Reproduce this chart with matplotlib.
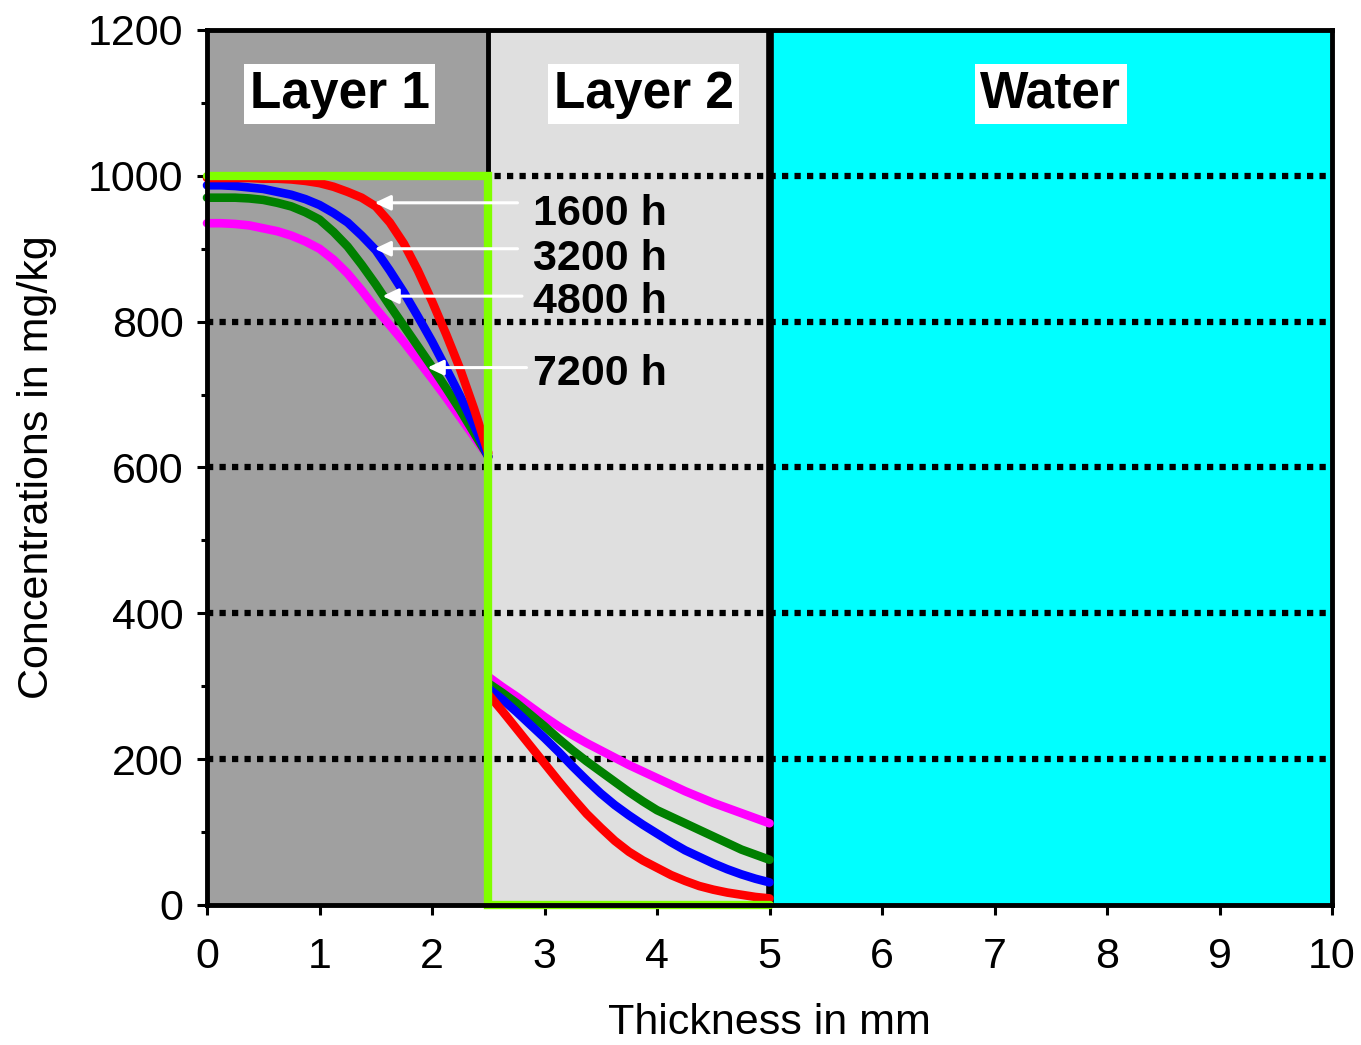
import numpy as np
import matplotlib
matplotlib.use("Agg")
import matplotlib.pyplot as plt
from matplotlib.ticker import MultipleLocator

plt.rcParams['font.family'] = ['Liberation Sans', 'DejaVu Sans']

# layer 1 profiles (0 .. 2.5 mm, read every 0.125 mm)
x_layer1 = [0, 0.125, 0.25, 0.375, 0.5, 0.625, 0.75, 0.875, 1.0, 1.125, 1.25,
            1.375, 1.5, 1.625, 1.75, 1.875, 2.0, 2.125, 2.25, 2.375, 2.5]
red_l1 = [997, 997, 997, 997, 996, 996, 995, 993, 990, 985, 978,
          970, 958, 936, 907, 870, 828, 783, 735, 680, 620]
blue_l1 = [987, 987, 986, 984, 982, 978, 974, 968, 960, 949, 936,
           918, 898, 870, 840, 807, 773, 736, 698, 657, 615]
green_l1 = [970, 970, 970, 969, 967, 963, 958, 950, 940, 923, 903,
            878, 851, 822, 794, 766, 738, 709, 679, 647, 615]
magenta_l1 = [935, 935, 934, 932, 928, 924, 918, 910, 900, 885, 866,
              843, 818, 795, 772, 747, 722, 696, 669, 642, 615]

# layer 2 profiles (2.5 .. 5 mm)
x_layer2 = [2.5, 2.625, 2.75, 2.875, 3.0, 3.125, 3.25, 3.375, 3.5, 3.625, 3.75,
            3.875, 4.0, 4.125, 4.25, 4.375, 4.5, 4.625, 4.75, 4.875, 5.0]
red_l2 = [289, 266, 242, 218, 194, 170, 147, 125, 106, 88, 73,
          61, 51, 41, 33, 26, 21, 17, 14, 11, 9]
blue_l2 = [297, 282, 265, 247, 229, 210, 190, 171, 153, 137, 123,
           110, 98, 86, 75, 66, 57, 49, 42, 36, 31]
green_l2 = [304, 291, 277, 261, 245, 228, 212, 197, 183, 169, 155,
            142, 130, 121, 112, 103, 94, 85, 76, 69, 62]
magenta_l2 = [313, 299, 286, 272, 258, 245, 233, 222, 212, 202, 192,
              183, 174, 165, 156, 148, 140, 133, 126, 119, 112]

# initial concentration
x_init = [0, 2.5, 2.5, 5.0]
y_init = [1000, 1000, 0, 0]

times = ['1600 h', '3200 h', '4800 h', '7200 h']
label_y = [933, 871, 812, 713]
arrow_y = [963, 900, 835, 737]
arrow_tail = [2.76, 2.76, 2.80, 2.84]
arrow_head = [1.49, 1.49, 1.56, 1.96]

regions = ['Layer 1', 'Layer 2', 'Water']
region_x = [1.18, 3.88, 7.5]

fig = plt.figure(figsize=(13.61, 10.45), dpi=100)
ax = fig.add_axes([0.1521, 0.134, 0.8266, 0.8373])

ax.axvspan(0, 2.5, color='#a0a0a0', zorder=0, lw=0)
ax.axvspan(2.5, 5, color='#dfdfdf', zorder=0, lw=0)
ax.axvspan(5, 10, color='#00ffff', zorder=0, lw=0)

for gy in [200, 400, 600, 800, 1000]:
    ax.axhline(gy, color='black', lw=4.5, linestyle=(0, (1, 1)), zorder=1)

ax.axvline(2.5, color='black', lw=3.5, zorder=2)
ax.axvline(5, color='black', lw=5.5, zorder=2)

profiles = [
    ('#ff0000', red_l1, red_l2),
    ('#0000ff', blue_l1, blue_l2),
    ('#008000', green_l1, green_l2),
    ('#ff00ff', magenta_l1, magenta_l2),
]
for col, y1, y2 in profiles[::-1]:
    ax.plot(x_layer1, y1, color=col, lw=6.2, solid_capstyle='round', zorder=3, clip_on=False)
    ax.plot(x_layer2, y2, color=col, lw=6.2, solid_capstyle='round', zorder=3, clip_on=False)

ax.plot(x_init, y_init, color='#80ff00', lw=6, solid_capstyle='round',
        solid_joinstyle='miter', zorder=4, clip_on=False)

for t, ly, ay, xt, xh in zip(times, label_y, arrow_y, arrow_tail, arrow_head):
    ax.annotate('', xy=(xh, ay), xytext=(xt, ay),
                arrowprops=dict(arrowstyle='-|>,head_length=0.95,head_width=0.45',
                                mutation_scale=10, color='white', lw=2.2,
                                shrinkA=0, shrinkB=0), zorder=5)
    ax.text(2.9, ly, t, fontsize=31, fontweight='bold', va='baseline', ha='left', zorder=6)

for r, rx in zip(regions, region_x):
    ax.text(rx, 1112, r, fontsize=37, fontweight='bold', ha='center', va='center', zorder=6,
            bbox=dict(facecolor='white', edgecolor='none', pad=4))

ax.set_xlim(0, 10)
ax.set_ylim(0, 1200)
ax.xaxis.set_major_locator(MultipleLocator(1))
ax.yaxis.set_major_locator(MultipleLocator(200))
ax.yaxis.set_minor_locator(MultipleLocator(100))
ax.tick_params(axis='both', which='major', direction='out', length=7, width=2.2,
               labelsize=31, pad=10)
ax.tick_params(axis='x', which='major', pad=16)
ax.tick_params(axis='y', which='minor', direction='out', length=4.5, width=2.2)
for sp in ax.spines.values():
    sp.set_linewidth(3.5)
    sp.set_zorder(7)

ax.set_xlabel('Thickness in mm', fontsize=31, labelpad=19)
ax.set_ylabel('Concentrations in mg/kg', fontsize=31, labelpad=22)

fig.savefig('out.png', dpi=100)
